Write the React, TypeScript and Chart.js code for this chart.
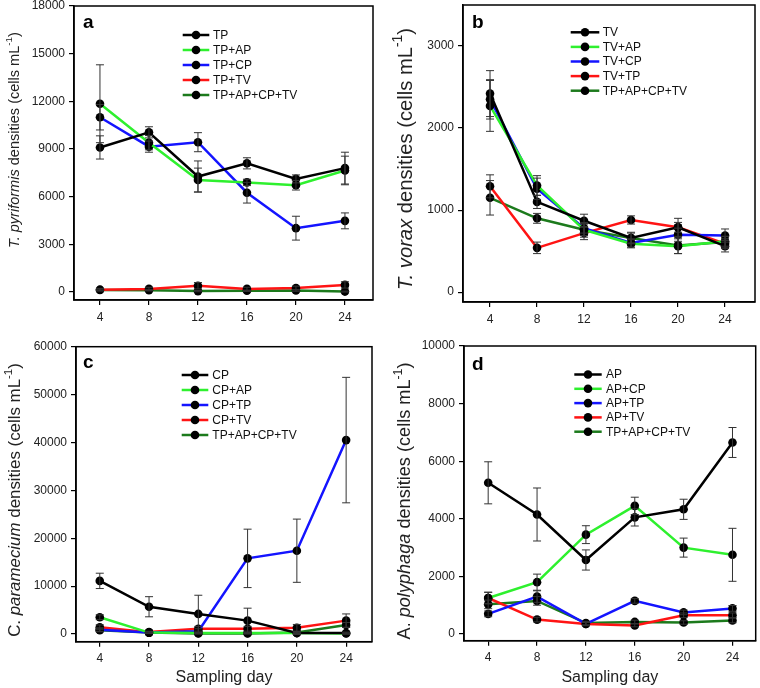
import React, { useEffect, useRef } from "react";
import { Chart, registerables } from "chart.js";
Chart.register(...registerables);

const FONT = "'Liberation Sans', Arial, Helvetica, sans-serif";

// ---------- data ----------
const days = [4, 8, 12, 16, 20, 24];

// Panel a: T. pyriformis
const aLabels = ["TP", "TP+AP", "TP+CP", "TP+TV", "TP+AP+CP+TV"];
const aTP = [9100, 10050, 7270, 8100, 7120, 7800];
const aTPerr = [730, 350, 980, 350, 250, 1000];
const aTPAP = [11850, 9400, 7050, 6900, 6720, 7650];
const aTPAPerr = [2450, 450, 750, 200, 300, 900];
const aTPCP = [11000, 9150, 9430, 6250, 4020, 4480];
const aTPCPerr = [800, 350, 600, 650, 750, 500];
const aTPTV = [150, 200, 400, 200, 250, 450];
const aTPTVerr = [80, 100, 200, 100, 120, 200];
const aAll = [130, 120, 60, 80, 100, 30];
const aAllerr = [50, 50, 40, 40, 50, 30];
const aTicks = [0, 3000, 6000, 9000, 12000, 15000, 18000];

// Panel b: T. vorax
const bLabels = ["TV", "TV+AP", "TV+CP", "TV+TP", "TP+AP+CP+TV"];
const bTV = [2420, 1100, 870, 660, 790, 560];
const bTVerr = [280, 80, 80, 60, 110, 70];
const bTVAP = [2270, 1300, 760, 590, 560, 620];
const bTVAPerr = [310, 120, 70, 50, 90, 60];
const bTVCP = [2350, 1260, 780, 600, 700, 690];
const bTVCPerr = [240, 130, 60, 50, 80, 80];
const bTVTP = [1290, 540, 720, 880, 790, 590];
const bTVTPerr = [140, 70, 80, 50, 60, 60];
const bAll = [1150, 900, 760, 660, 570, 610];
const bAllerr = [210, 60, 90, 70, 100, 70];
const bTicks = [0, 1000, 2000, 3000];

// Panel c: C. paramecium
const cLabels = ["CP", "CP+AP", "CP+TP", "CP+TV", "TP+AP+CP+TV"];
const cCP = [11100, 5700, 4200, 2800, 200, 200];
const cCPerr = [1600, 2100, 3900, 2600, 300, 200];
const cCPAP = [3500, 300, 200, 200, 200, 100];
const cCPAPerr = [500, 200, 100, 100, 100, 100];
const cCPTP = [900, 300, 600, 15800, 17400, 40500];
const cCPTPerr = [400, 200, 500, 6100, 6600, 13100];
const cCPTV = [1400, 400, 1100, 1100, 1300, 2800];
const cCPTVerr = [500, 200, 500, 500, 700, 1400];
const cAll = [800, 300, 100, 100, 300, 1900];
const cAllerr = [300, 100, 100, 100, 200, 500];
const cTicks = [0, 10000, 20000, 30000, 40000, 50000, 60000];

// Panel d: A. polyphaga
const dLabels = ["AP", "AP+CP", "AP+TP", "AP+TV", "TP+AP+CP+TV"];
const dAP = [5250, 4150, 2570, 4050, 4330, 6650];
const dAPerr = [730, 920, 350, 300, 350, 520];
const dAPCP = [1250, 1800, 3450, 4450, 3000, 2750];
const dAPCPerr = [200, 280, 310, 300, 330, 920];
const dAPTP = [700, 1300, 350, 1150, 750, 890];
const dAPTPerr = [100, 200, 60, 80, 80, 100];
const dAPTV = [1250, 500, 350, 300, 650, 650];
const dAPTVerr = [200, 80, 50, 50, 80, 80];
const dAll = [1030, 1150, 380, 420, 400, 470];
const dAllerr = [150, 150, 60, 60, 60, 80];
const dTicks = [0, 2000, 4000, 6000, 8000, 10000];

const COLORS = ["#000000", "#2ef02e", "#1414ff", "#ff1414", "#1c7a1c"];

type Part = { t: string; italic?: boolean; sup?: boolean };

type PanelCfg = {
  letter: string;
  x: number; y: number; w: number; h: number;
  area: { l: number; t: number; r: number; b: number };
  xmin: number; xmax: number; ymin: number; ymax: number;
  yTicks: number[];
  labels: string[];
  series: number[][];
  errs: number[][];
  title: Part[];
  titleC: { x: number; y: number; len: number };
  legend: { x0: number; x1: number; tx: number; y0: number; step: number };
  letterPos: { x: number; y: number };
  xTitle: boolean;
};

const sup: Part[] = [{ t: " densities (cells mL" }, { t: "-1", sup: true }, { t: ")" }];

const panels: PanelCfg[] = [
  {
    letter: "a", x: 0, y: 0, w: 380, h: 330,
    area: { l: 74, t: 6, r: 373, b: 300 },
    xmin: 1.88, xmax: 26.29, ymin: -500, ymax: 18000, yTicks: aTicks,
    labels: aLabels,
    series: [aTP, aTPAP, aTPCP, aTPTV, aAll],
    errs: [aTPerr, aTPAPerr, aTPCPerr, aTPTVerr, aAllerr],
    title: [{ t: "T. pyriformis", italic: true }, ...sup],
    titleC: { x: 15, y: 140, len: 216 },
    legend: { x0: 182.7, x1: 209.3, tx: 213, y0: 35, step: 15 },
    letterPos: { x: 83, y: 28 }, xTitle: false,
  },
  {
    letter: "b", x: 380, y: 0, w: 380, h: 330,
    area: { l: 463, t: 5, r: 755, b: 302 },
    xmin: 1.7, xmax: 26.55, ymin: -120, ymax: 3500, yTicks: bTicks,
    labels: bLabels,
    series: [bTV, bTVAP, bTVCP, bTVTP, bAll],
    errs: [bTVerr, bTVAPerr, bTVCPerr, bTVTPerr, bAllerr],
    title: [{ t: "T. vorax", italic: true }, ...sup],
    titleC: { x: 406, y: 159, len: 262 },
    legend: { x0: 570.7, x1: 599.3, tx: 602.7, y0: 32.3, step: 14.6 },
    letterPos: { x: 472, y: 28 }, xTitle: false,
  },
  {
    letter: "c", x: 0, y: 330, w: 380, h: 358,
    area: { l: 76, t: 346.7, r: 372, b: 641.7 },
    xmin: 2.07, xmax: 26.1, ymin: -1600, ymax: 60000, yTicks: cTicks,
    labels: cLabels,
    series: [cCP, cCPAP, cCPTP, cCPTV, cAll],
    errs: [cCPerr, cCPAPerr, cCPTPerr, cCPTVerr, cAllerr],
    title: [{ t: "C. " }, { t: "paramecium", italic: true }, ...sup],
    titleC: { x: 15, y: 500, len: 274 },
    legend: { x0: 181.7, x1: 208.3, tx: 212.3, y0: 375, step: 15 },
    letterPos: { x: 83, y: 368 }, xTitle: true,
  },
  {
    letter: "d", x: 380, y: 330, w: 380, h: 358,
    area: { l: 464, t: 346, r: 757, b: 640.7 },
    xmin: 2.02, xmax: 25.9, ymin: -232, ymax: 10000, yTicks: dTicks,
    labels: dLabels,
    series: [dAP, dAPCP, dAPTP, dAPTV, dAll],
    errs: [dAPerr, dAPCPerr, dAPTPerr, dAPTVerr, dAllerr],
    title: [{ t: "A. " }, { t: "polyphaga", italic: true }, ...sup],
    titleC: { x: 405, y: 501, len: 277 },
    legend: { x0: 574.3, x1: 601.7, tx: 606, y0: 374.5, step: 14.3 },
    letterPos: { x: 472, y: 370 }, xTitle: true,
  },
];

function fontFor(p: Part, size: number) {
  const s = p.sup ? size * 0.68 : size;
  return `${p.italic ? "italic " : ""}${s}px ${FONT}`;
}

function drawRich(ctx: CanvasRenderingContext2D, parts: Part[], cx: number, cy: number, len: number) {
  const measure = (size: number) =>
    parts.reduce((w, p) => {
      ctx.font = fontFor(p, size);
      return w + ctx.measureText(p.t).width;
    }, 0);
  const base = 14;
  const size = (base * len) / measure(base);
  const total = measure(size);
  ctx.save();
  ctx.translate(cx, cy);
  ctx.rotate(-Math.PI / 2);
  ctx.textBaseline = "middle";
  ctx.textAlign = "left";
  ctx.fillStyle = "#222";
  let x = -total / 2;
  for (const p of parts) {
    ctx.font = fontFor(p, size);
    ctx.fillText(p.t, x, p.sup ? -size * 0.38 : 0);
    x += ctx.measureText(p.t).width;
  }
  ctx.restore();
}

function PanelChart({ p }: { p: PanelCfg }) {
  const ref = useRef<HTMLCanvasElement>(null);
  useEffect(() => {
    const canvas = ref.current;
    if (!canvas) return;
    const ox = p.x, oy = p.y;
    const yW = p.area.l - ox;
    const xH = oy + p.h - p.area.b;
    const padTop = p.area.t - oy;
    const padRight = ox + p.w - p.area.r;

    const deco = {
      id: "deco" + p.letter,
      afterDatasetsDraw(chart: any) {
        const ctx: CanvasRenderingContext2D = chart.ctx;
        const ys = chart.scales.y;
        ctx.save();
        ctx.strokeStyle = "#333";
        ctx.lineWidth = 1;
        p.series.forEach((vals, i) => {
          const meta = chart.getDatasetMeta(i);
          vals.forEach((v, j) => {
            const e = p.errs[i][j];
            const pt = meta.data[j];
            const yt = ys.getPixelForValue(v + e);
            const yb = ys.getPixelForValue(v - e);
            ctx.beginPath();
            ctx.moveTo(pt.x, yt);
            ctx.lineTo(pt.x, yb);
            ctx.moveTo(pt.x - 4, yt);
            ctx.lineTo(pt.x + 4, yt);
            ctx.moveTo(pt.x - 4, yb);
            ctx.lineTo(pt.x + 4, yb);
            ctx.stroke();
          });
        });
        ctx.restore();
      },
      afterDraw(chart: any) {
        const ctx: CanvasRenderingContext2D = chart.ctx;
        const a = chart.chartArea;
        ctx.save();
        ctx.strokeStyle = "#000";
        ctx.lineWidth = 1.5;
        ctx.strokeRect(a.left, a.top, a.right - a.left, a.bottom - a.top);
        // legend
        const L = p.legend;
        p.labels.forEach((lab, i) => {
          const yy = L.y0 + i * L.step - oy;
          ctx.strokeStyle = COLORS[i];
          ctx.lineWidth = 2.5;
          ctx.beginPath();
          ctx.moveTo(L.x0 - ox, yy);
          ctx.lineTo(L.x1 - ox, yy);
          ctx.stroke();
          ctx.fillStyle = "#000";
          ctx.beginPath();
          ctx.arc((L.x0 + L.x1) / 2 - ox, yy, 4.3, 0, Math.PI * 2);
          ctx.fill();
          ctx.fillStyle = "#111";
          ctx.font = `12px ${FONT}`;
          ctx.textBaseline = "middle";
          ctx.textAlign = "left";
          ctx.fillText(lab, L.tx - ox, yy + 0.5);
        });
        // panel letter
        ctx.fillStyle = "#000";
        ctx.font = `bold 19px ${FONT}`;
        ctx.textBaseline = "alphabetic";
        ctx.textAlign = "left";
        ctx.fillText(p.letter, p.letterPos.x - ox, p.letterPos.y - oy);
        // y title
        drawRich(ctx, p.title, p.titleC.x - ox, p.titleC.y - oy, p.titleC.len);
        // x title
        if (p.xTitle) {
          ctx.fillStyle = "#222";
          ctx.font = `16px ${FONT}`;
          ctx.textAlign = "center";
          ctx.textBaseline = "middle";
          ctx.fillText("Sampling day", (a.left + a.right) / 2, 678 - oy);
        }
        ctx.restore();
      },
    };

    const chart = new Chart(canvas, {
      type: "line",
      data: {
        datasets: p.series.map((vals, i) => ({
          label: p.labels[i],
          data: days.map((d, j) => ({ x: d, y: vals[j] })),
          borderColor: COLORS[i],
          backgroundColor: "#000",
          borderWidth: 2.5,
          pointRadius: 4.3,
          pointBackgroundColor: "#000",
          pointBorderColor: "#000",
          pointBorderWidth: 0,
          tension: 0,
          fill: false,
        })),
      },
      options: {
        responsive: false,
        animation: false,
        devicePixelRatio: 1,
        layout: { padding: { top: padTop, right: padRight, left: 0, bottom: 0 } },
        plugins: { legend: { display: false }, tooltip: { enabled: false }, title: { display: false } },
        scales: {
          x: {
            type: "linear",
            min: p.xmin,
            max: p.xmax,
            afterBuildTicks: (s: any) => { s.ticks = days.map((v) => ({ value: v })); },
            afterFit: (s: any) => {
              s.height = xH;
              s.paddingLeft = 0; s.paddingRight = 0; s.paddingTop = 0; s.paddingBottom = 0;
            },
            grid: { drawOnChartArea: false, drawTicks: true, tickLength: 5, color: "#000", lineWidth: 1.2 },
            border: { display: true, color: "#000", width: 1.5 },
            ticks: {
              font: { family: FONT, size: 12 }, color: "#222", padding: 5,
              maxRotation: 0, autoSkip: false, callback: (v: any) => String(v),
            },
          },
          y: {
            type: "linear",
            min: p.ymin,
            max: p.ymax,
            afterBuildTicks: (s: any) => { s.ticks = p.yTicks.map((v) => ({ value: v })); },
            afterFit: (s: any) => {
              s.width = yW;
              s.paddingLeft = 0; s.paddingRight = 0; s.paddingTop = 0; s.paddingBottom = 0;
            },
            grid: { drawOnChartArea: false, drawTicks: true, tickLength: 5, color: "#000", lineWidth: 1.2 },
            border: { display: true, color: "#000", width: 1.5 },
            ticks: {
              font: { family: FONT, size: 12 }, color: "#222", padding: 4,
              autoSkip: false, callback: (v: any) => String(v),
            },
          },
        },
      } as any,
      plugins: [deco],
    });
    return () => chart.destroy();
  }, [p]);
  return (
    <canvas
      ref={ref}
      width={p.w}
      height={p.h}
      style={{ position: "absolute", left: p.x, top: p.y, width: p.w, height: p.h }}
    />
  );
}

export default function App() {
  return (
    <div style={{ position: "absolute", left: 0, top: 0, width: 760, height: 688, background: "#fff" }}>
      {panels.map((p) => (
        <PanelChart key={p.letter} p={p} />
      ))}
    </div>
  );
}
